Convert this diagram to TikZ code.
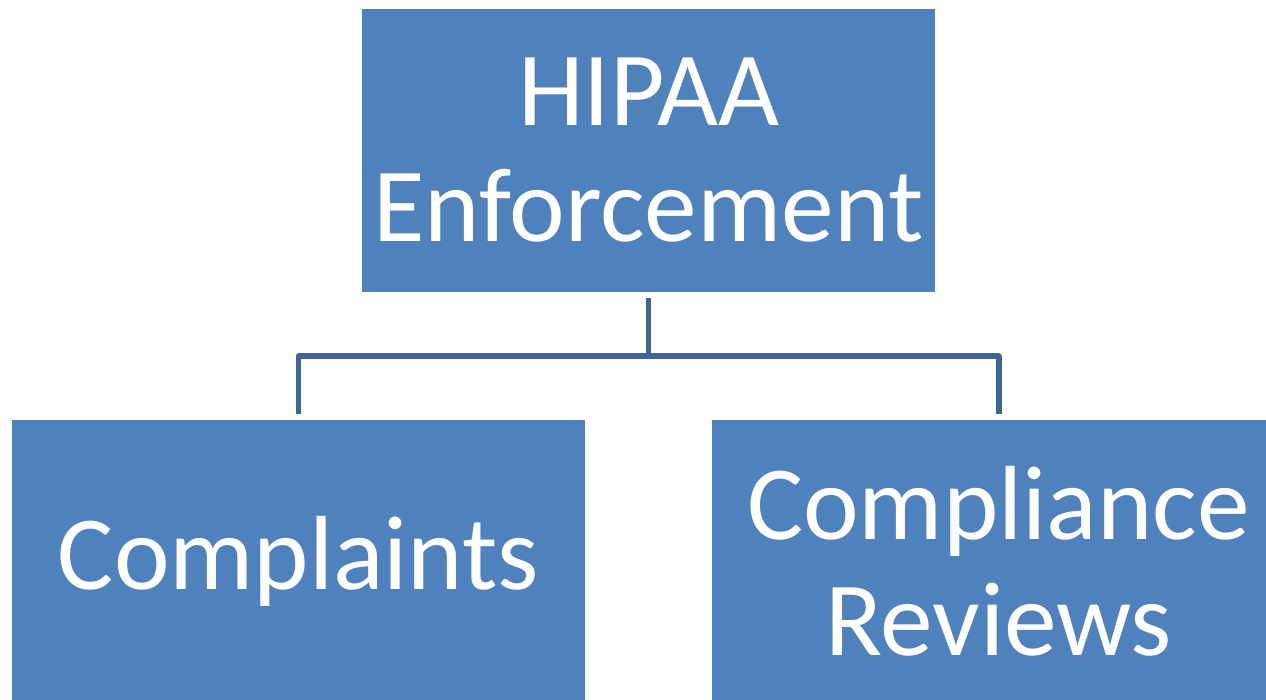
\documentclass[tikz,border=0pt]{standalone}
\usepackage{fontspec}
\setmainfont{Carlito}
\usepackage{tikz}
\usetikzlibrary{positioning}

\definecolor{boxblue}{HTML}{4F81BD}
\definecolor{linkblue}{HTML}{3D6697}

\tikzset{
    topic/.style={fill=boxblue, text=white, inner sep=0pt, align=center,
        minimum width=11.46cm, minimum height=5.66cm,
        font=\fontsize{60pt}{66pt}\selectfont},
    link/.style={draw=linkblue, line width=3.4pt, line join=round,
        shorten <=0.12cm, shorten >=0.12cm}
}

\begin{document}
\begin{tikzpicture}[x=0.02cm, y=-0.02cm]
    \clip (0,0) rectangle (1266,699);
    \node[topic] (hipaa) at (648.5,150.5) {HIPAA\\Enforcement};
    \node[topic] (complaints) at (298.5,561.5) {Complaints};
    \node[topic] (reviews) at (998.5,561.5) {Compliance\\Reviews};
    \draw[link] (hipaa.south) -- ++(0,64) -| (complaints.north);
    \draw[link] (hipaa.south) -- ++(0,64) -| (reviews.north);
\end{tikzpicture}
\end{document}
